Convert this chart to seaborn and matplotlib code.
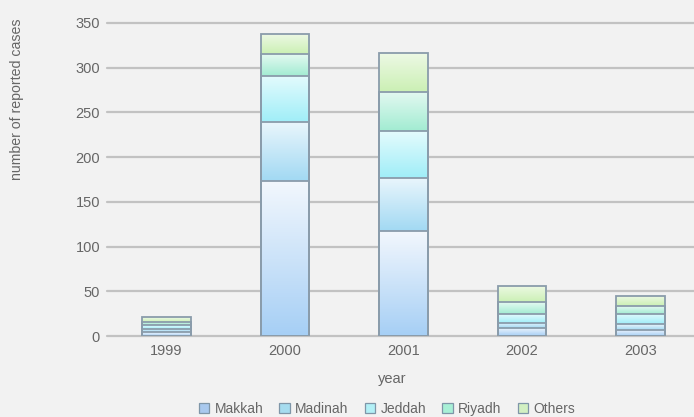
import numpy as np
import pandas as pd
import matplotlib
matplotlib.use("Agg")
import matplotlib.pyplot as plt
import matplotlib.colors as mcolors
from matplotlib.patches import Patch
import seaborn as sns

# Reported cases per region and year
years = ["1999", "2000", "2001", "2002", "2003"]
makkah = [4, 173, 117, 9, 7]
madinah = [4, 66, 60, 6, 6]
jeddah = [4, 52, 52, 10, 12]
riyadh = [4, 24, 44, 13, 8]
others = [5, 23, 44, 18, 12]

regions = ["Makkah", "Madinah", "Jeddah", "Riyadh", "Others"]
series = [makkah, madinah, jeddah, riyadh, others]
# (top colour, bottom colour) of each segment's vertical gradient
fills = [
    ("#f2f7fd", "#a6cff5"),
    ("#eaf6fc", "#a2d9f3"),
    ("#e4fbfd", "#a0eef8"),
    ("#e4f9f1", "#a2ecd2"),
    ("#eef9e6", "#cbf0b4"),
]
legend_colors = ["#a9c9ee", "#a6dcef", "#b2f0f6", "#a8f0d6", "#d2f0c2"]
edge_color = "#8a9cab"
text_color = "#666666"
bg = "#f2f2f2"

sns.set_theme(style="white")
plt.rcParams["font.family"] = ["Liberation Sans", "DejaVu Sans"]

cum = np.cumsum(np.array(series), axis=0)
lower = np.vstack([np.zeros(len(years)), cum[:-1]])

fig = plt.figure(figsize=(6.94, 4.17), dpi=100, facecolor=bg)
ax = fig.add_axes([107 / 694, 1 - 336 / 417, 1 - 107 / 694, 313 / 417])
ax.set_facecolor(bg)

# Stack by drawing cumulative totals, tallest first
for i in range(len(regions) - 1, -1, -1):
    df = pd.DataFrame({"year": years, "value": cum[i]})
    sns.barplot(data=df, x="year", y="value", order=years, color=fills[i][1],
                width=0.41, ax=ax, edgecolor=edge_color, linewidth=1.3,
                zorder=3)
    cont = ax.containers[-1]
    top_rgb = np.array(mcolors.to_rgb(fills[i][0]))
    bot_rgb = np.array(mcolors.to_rgb(fills[i][1]))
    t = np.linspace(0, 1, 64)[:, None]
    grad = (bot_rgb[None, :] * (1 - t) + top_rgb[None, :] * t)[:, None, :]
    for j, patch in enumerate(cont.patches):
        patch.set_facecolor("none")
        patch.set_zorder(4)
        x0 = patch.get_x()
        w = patch.get_width()
        im = ax.imshow(grad, extent=[x0, x0 + w, lower[i][j], cum[i][j]],
                       origin="lower", aspect="auto", zorder=2,
                       interpolation="bilinear")
        im.set_clip_path(patch)

ax.set_xlim(-0.5, 4.45)
ax.set_ylim(0, 350)
ax.set_yticks(range(0, 351, 50))
ax.yaxis.grid(True, color="#c2c2c2", linewidth=1.6)
ax.set_axisbelow(True)
for gl in ax.get_ygridlines():
    gl.set_clip_on(False)
for s in ax.spines.values():
    s.set_visible(False)
ax.tick_params(axis="y", length=0, pad=5, labelsize=10.5, labelcolor=text_color)
ax.tick_params(axis="x", length=0, pad=6, labelsize=10.5, labelcolor=text_color)
ax.set_xlabel("")
ax.set_ylabel("")

fig.text(392 / 694, 1 - 379 / 417, "year", ha="center", va="center",
         fontsize=10.5, color=text_color)
fig.text(17 / 694, 1 - 99 / 417, "number of reported cases", rotation=90,
         ha="center", va="center", fontsize=10.2, color=text_color)

handles = [Patch(facecolor=c, edgecolor="#7f96a8", linewidth=0.9, label=r)
           for r, c in zip(regions, legend_colors)]
leg = fig.legend(handles=handles, loc="center", ncol=5,
                 bbox_to_anchor=(387 / 694, 1 - 409 / 417), frameon=False,
                 fontsize=10, handlelength=0.75, handleheight=0.75,
                 handletextpad=0.4, columnspacing=1.15, labelcolor=text_color)

fig.savefig("out.png", dpi=100, facecolor=bg)
